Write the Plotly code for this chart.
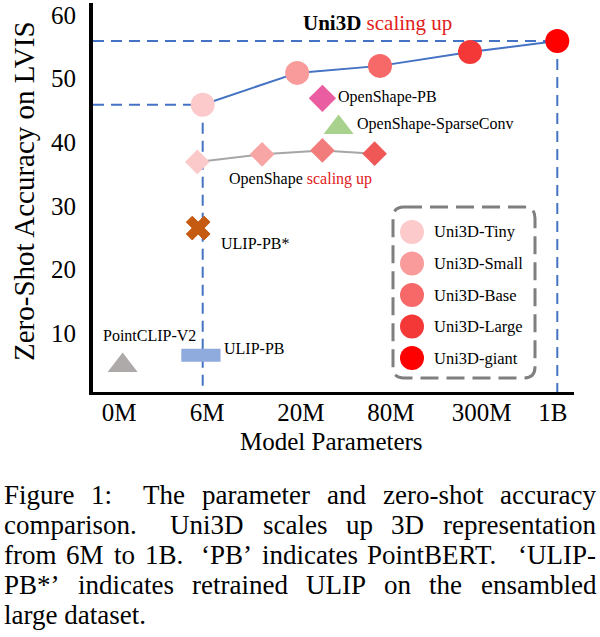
import plotly.graph_objects as go

# ---------------- data ----------------
uni3d_names = ["Uni3D-Tiny", "Uni3D-Small", "Uni3D-Base", "Uni3D-Large", "Uni3D-giant"]
uni3d_x = [0.93, 1.98, 2.90, 3.90, 4.87]
uni3d_acc = [45.9, 50.9, 52.0, 54.2, 55.9]
uni3d_colors = ["#FCCACA", "#F99B9B", "#F76969", "#F43838", "#FF0000"]

openshape_x = [0.87, 1.59, 2.26, 2.84]
openshape_acc = [36.9, 38.1, 38.7, 38.2]
openshape_colors = ["#FBC9C9", "#F7A5A5", "#F27C7C", "#F05858"]

other_names = ["OpenShape-PB", "OpenShape-SparseConv", "ULIP-PB*", "ULIP-PB", "PointCLIP-V2"]
other_x = [2.26, 2.44, 0.88, 0.91, 0.04]
other_acc = [46.9, 42.3, 26.5, 6.5, 4.9]
other_colors = ["#EA5DA0", "#A9D18E", "#C55A11", "#8FAADC", "#AEAAAA"]
other_symbols = ["diamond", "triangle-up", "x", "line-ew", "triangle-up"]

x_tick_vals = [0, 0.98, 2.02, 3.02, 4.03, 4.82]
x_tick_text = ["0M", "6M", "20M", "80M", "300M", "1B"]
y_tick_vals = [10, 20, 30, 40, 50, 60]

caption_lines = [
    "Figure 1:  The parameter and zero-shot accuracy",
    "comparison.  Uni3D scales up 3D representation",
    "from 6M to 1B. \u2018PB\u2019 indicates PointBERT. \u2018ULIP-",
    "PB*\u2019 indicates retrained ULIP on the ensambled",
    "large dataset.",
]

# ---------------- geometry helpers (layout only) ----------------
W, H = 600, 637
PL, PR, PT, PB = 93, 574, 3, 392          # plot area in pixels
X_RANGE = [(PL - 119) / 90, (PR - 119) / 90]
Y_RANGE = [(396.6 - PB) / 6.36, (396.6 - PT) / 6.36]


def X(px):
    return (px - 119) / 90


def Y(py):
    return (396.6 - py) / 6.36


def PX(px):
    return (px - PL) / (PR - PL)


def PY(py):
    return (PB - py) / (PB - PT)


FONT = "Liberation Serif"
RED = "#E0201B"
BLUE = "#4472C4"

fig = go.Figure()

# guide dashed lines (from axis to Tiny and giant)
x0, y0 = X_RANGE[0], Y_RANGE[0]
tx, ty = uni3d_x[0], uni3d_acc[0]
gx, gy = uni3d_x[-1], uni3d_acc[-1]
fig.add_trace(go.Scatter(
    x=[x0, gx, None, gx, gx, None, x0, tx, None, tx, tx],
    y=[gy, gy, None, gy, y0, None, ty, ty, None, ty, y0],
    mode="lines", line=dict(color=BLUE, width=2, dash="11px,7px"),
    hoverinfo="skip", showlegend=False, cliponaxis=False))

# OpenShape scaling
fig.add_trace(go.Scatter(
    x=openshape_x, y=openshape_acc, mode="lines+markers",
    line=dict(color="#A6A6A6", width=2),
    marker=dict(symbol="diamond", size=19, color=openshape_colors, line=dict(width=0)),
    showlegend=False))

# Uni3D scaling
fig.add_trace(go.Scatter(
    x=uni3d_x, y=uni3d_acc, mode="lines+markers",
    line=dict(color=BLUE, width=2),
    marker=dict(symbol="circle", size=24, color=uni3d_colors, line=dict(width=0)),
    showlegend=False))

# other methods
other_sizes = [21, 26, 21, 28, 26]
for name, xv, yv, col, sym, sz in zip(other_names, other_x, other_acc, other_colors,
                                     other_symbols, other_sizes):
    if sym == "line-ew":
        mk = dict(symbol=sym, size=sz, line=dict(color=col, width=13))
    else:
        mk = dict(symbol=sym, size=sz, color=col, line=dict(color=col, width=1 if sym == "x" else 0))
    fig.add_trace(go.Scatter(x=[xv], y=[yv], mode="markers", marker=mk,
                             name=name, showlegend=False))

# custom legend markers (overlay paper-like axes)
leg_y = [PY(232 + 31.5 * i) for i in range(len(uni3d_names))]
fig.add_trace(go.Scatter(
    x=[PX(412)] * len(uni3d_names), y=leg_y, mode="markers",
    marker=dict(symbol="circle", size=24, color=uni3d_colors, line=dict(width=0)),
    xaxis="x2", yaxis="y2", showlegend=False, hoverinfo="skip"))

annotations = []
# title
annotations.append(dict(
    x=X(302), y=Y(23), xref="x", yref="y", xanchor="left", yanchor="middle",
    text="<b>Uni3D</b> <span style='color:%s'>scaling up</span>" % RED,
    showarrow=False, font=dict(size=21, color="black", family=FONT), borderpad=0))
# point labels
label_pos = [(337, 97), (356, 124), (220, 243), (223, 348), (102, 335)]
for name, (lx, ly) in zip(other_names, label_pos):
    annotations.append(dict(x=X(lx), y=Y(ly), xref="x", yref="y", xanchor="left",
                            yanchor="middle", text=name, showarrow=False, borderpad=0,
                            font=dict(size=16, color="black", family=FONT)))
annotations.append(dict(
    x=X(228), y=Y(179), xref="x", yref="y", xanchor="left", yanchor="middle",
    text="OpenShape <span style='color:%s'>scaling up</span>" % RED, showarrow=False,
    borderpad=0, font=dict(size=16, color="black", family=FONT)))
# legend labels
for i, name in enumerate(uni3d_names):
    annotations.append(dict(x=PX(433), y=leg_y[i], xref="paper", yref="paper",
                            xanchor="left", yanchor="middle", text=name, showarrow=False,
                            borderpad=0, font=dict(size=16.5, color="black", family=FONT)))
# axis titles
annotations.append(dict(x=PX(331), y=PY(441), xref="paper", yref="paper",
                        xanchor="center", yanchor="middle", text="Model Parameters",
                        showarrow=False, font=dict(size=25, color="black", family=FONT)))
annotations.append(dict(x=PX(24), y=PY(191), xref="paper", yref="paper",
                        xanchor="center", yanchor="middle", textangle=-90,
                        text="Zero-Shot Accuracy on LVIS",
                        showarrow=False, font=dict(size=29, color="black", family=FONT)))

# caption, justified using Times metrics
TW = {' ': 250, '\u2018': 333, '\u2019': 333, '*': 500, '-': 333, '.': 250, ':': 278}
for c in "0123456789":
    TW[c] = 500
TW.update(dict(A=722, B=667, C=667, D=722, E=611, F=556, G=722, H=722, I=333, J=389,
               K=722, L=611, M=889, N=722, O=722, P=556, Q=722, R=667, S=556, T=611,
               U=722, V=722, W=944, X=722, Y=722, Z=611))
TW.update(dict(a=444, b=500, c=444, d=500, e=444, f=333, g=500, h=500, i=278, j=278,
               k=500, l=278, m=778, n=500, o=500, p=500, q=500, r=333, s=389, t=278,
               u=500, v=500, w=722, x=500, y=500, z=444))
CAP_FS = 27
CAP_L, CAP_R = 3, 595
cap_y = [495, 525, 555, 585, 615]


def wwidth(w):
    return sum(TW.get(ch, 500) for ch in w) * CAP_FS / 1000.0


for li, line in enumerate(caption_lines):
    words = line.split()
    if li == len(caption_lines) - 1:
        annotations.append(dict(x=PX(CAP_L), y=PY(cap_y[li]), xref="paper", yref="paper",
                                xanchor="left", yanchor="middle", text=line, showarrow=False,
                                borderpad=0, font=dict(size=CAP_FS, color="black", family=FONT)))
        continue
    widths = [wwidth(w) for w in words]
    weights = [1.8 if words[k][-1] in ".:" else 1.0 for k in range(len(words) - 1)]
    gap_unit = (CAP_R - CAP_L - sum(widths)) / sum(weights)
    pos = CAP_L
    for k, w in enumerate(words):
        annotations.append(dict(x=PX(pos), y=PY(cap_y[li]), xref="paper", yref="paper",
                                xanchor="left", yanchor="middle", text=w, showarrow=False,
                                borderpad=0, font=dict(size=CAP_FS, color="black", family=FONT)))
        if k < len(words) - 1:
            pos += widths[k] + gap_unit * weights[k]

# dashed rounded legend box
bx0, bx1, by0, by1 = PX(393), PX(535), PY(378), PY(207)
rx, ry = 11 / (PR - PL), 11 / (PB - PT)
box_path = (f"M{bx0 + rx},{by1} L{bx1 - rx},{by1} Q{bx1},{by1} {bx1},{by1 - ry} "
            f"L{bx1},{by0 + ry} Q{bx1},{by0} {bx1 - rx},{by0} L{bx0 + rx},{by0} "
            f"Q{bx0},{by0} {bx0},{by0 + ry} L{bx0},{by1 - ry} Q{bx0},{by1} {bx0 + rx},{by1} Z")

fig.update_layout(
    width=W, height=H,
    margin=dict(l=PL, r=W - PR, t=PT, b=H - PB, pad=0),
    paper_bgcolor="white", plot_bgcolor="white",
    font=dict(family=FONT, color="black"),
    showlegend=False,
    xaxis=dict(range=X_RANGE, tickmode="array", tickvals=x_tick_vals, ticktext=x_tick_text,
               showgrid=False, zeroline=False, showline=True, linecolor="black", linewidth=3,
               ticks="", ticklabelstandoff=-4, tickfont=dict(size=25, family=FONT, color="black")),
    yaxis=dict(range=Y_RANGE, tickmode="array", tickvals=y_tick_vals,
               showgrid=False, zeroline=False, showline=True, linecolor="black", linewidth=4,
               ticks="", ticklabelstandoff=8, tickfont=dict(size=25, family=FONT, color="black")),
    xaxis2=dict(overlaying="x", range=[0, 1], visible=False),
    yaxis2=dict(overlaying="y", range=[0, 1], visible=False),
    shapes=[dict(type="path", path=box_path, xref="paper", yref="paper",
                 line=dict(color="#7F7F7F", width=3, dash="18px,8px"))],
    annotations=annotations,
)

fig.write_html("out.html", config={"displayModeBar": False},
               post_script="document.body.style.margin='0px';")
